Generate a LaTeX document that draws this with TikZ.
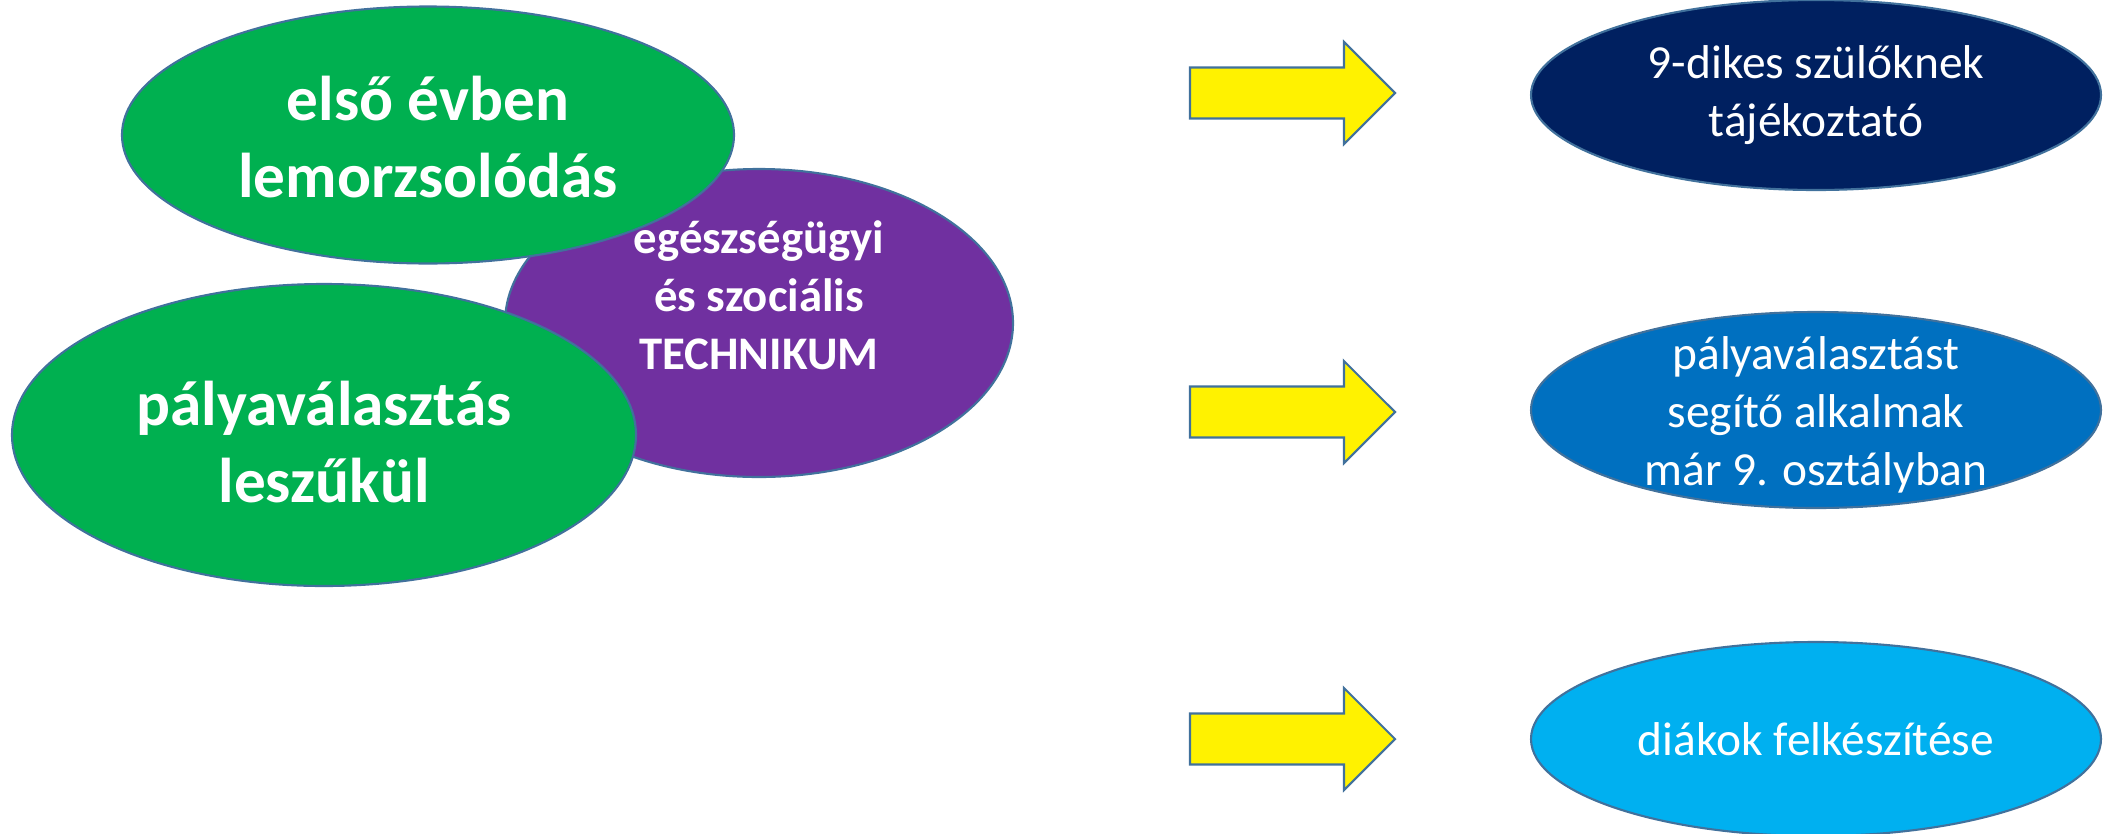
\documentclass[tikz,border=0pt]{standalone}
\usepackage{fontspec}
\setmainfont{Carlito}
\usepackage{tikz}
\usetikzlibrary{calc,shapes.geometric}
\definecolor{fillgreen}{HTML}{00B050}
\definecolor{fillpurple}{HTML}{7030A0}
\definecolor{fillnavy}{HTML}{002060}
\definecolor{fillblue}{HTML}{0070C0}
\definecolor{filllight}{HTML}{00B0F0}
\definecolor{edgeblue}{HTML}{41719C}
\def\yellowarrow(#1){\draw[arrowshape, shift={(#1)}] (0, 0.255) -- (1.54, 0.255) -- (1.54, 0.51) -- (2.05, 0) -- (1.54, -0.51) -- (1.54, -0.255) -- (0, -0.255) -- cycle;}

\tikzset{
	blob/.style={ellipse, draw=edgeblue, line width=0.6pt, inner sep=0pt},
	arrowshape/.style={fill=yellow, draw=edgeblue, line width=0.6pt},
	bigtext/.style={text=white, align=center, font=\fontsize{18}{22}\selectfont\bfseries},
	midtext/.style={text=white, align=center, font=\fontsize{13.3}{16.5}\selectfont\bfseries},
	sidetext/.style={text=white, align=center, font=\fontsize{13.5}{16.5}\selectfont}
}

\begin{document}
\begin{tikzpicture}
		%%%%% START %%%%%
		\useasboundingbox (0, 0) rectangle (21.10, 8.33);
		
		% left cluster
		\node[blob, fill=fillpurple, minimum width=5.08cm, minimum height=3.08cm] (tech) at (7.59, 5.10) {};
		\node[blob, fill=fillgreen, minimum width=6.12cm, minimum height=2.57cm] (drop) at (4.28, 6.98) {};
		\node[blob, fill=fillgreen, minimum width=6.24cm, minimum height=3.02cm] (career) at (3.24, 3.98) {};
		
		\node[bigtext] (droptext) at ([yshift=-0.02cm]drop.center) {első évben\\lemorzsolódás};
		\node[bigtext] (careertext) at ([yshift=-0.07cm]career.center) {pályaválasztás\\leszűkül};
		\node[midtext] (techtext) at ([yshift=0.28cm]tech.center) {egészségügyi\\és szociális\\TECHNIKUM};
		
		% arrows
		\coordinate (arrow1) at (11.90, 7.40);
		\coordinate (arrow2) at (11.90, 4.21);
		\coordinate (arrow3) at (11.90, 0.94);
		\yellowarrow(arrow1)
		\yellowarrow(arrow2)
		\yellowarrow(arrow3)
		
		% right column
		\node[blob, fill=fillnavy, minimum width=5.70cm, minimum height=1.90cm] (parents) at (18.16, 7.38) {};
		\node[blob, fill=fillblue, minimum width=5.70cm, minimum height=1.96cm] (events) at (18.16, 4.23) {};
		\node[blob, fill=filllight, minimum width=5.70cm, minimum height=1.94cm] (prep) at (18.16, 0.94) {};
		
		\node[sidetext] (parentstext) at (parents) {9-dikes szülőknek\\tájékoztató};
		\node[sidetext] (eventstext) at ([yshift=-0.05cm]events.center) {pályaválasztást\\segítő alkalmak\\már 9. osztályban};
		\node[sidetext] (preptext) at (prep) {diákok felkészítése};
		%%%%% END %%%%%
\end{tikzpicture}
\end{document}
